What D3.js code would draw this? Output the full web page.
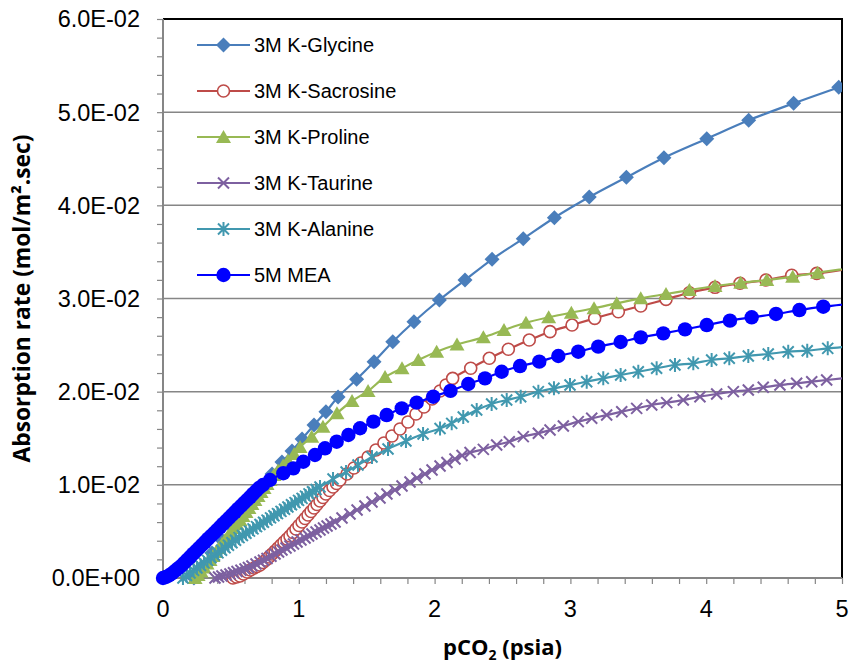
<!DOCTYPE html>
<html><head><meta charset="utf-8">
<script src="https://cdn.jsdelivr.net/npm/d3@7"></script>
<style>body{margin:0;background:#fff} svg{display:block}</style>
</head><body><svg id="c" width="852" height="663"></svg>
<script>
// ---------- DATA ----------
const seriesNames = ["3M K-Glycine","3M K-Sacrosine","3M K-Proline","3M K-Taurine","3M K-Alanine","5M MEA"];
const xTicks = [0,1,2,3,4,5];
const xTickLabels = ["0","1","2","3","4","5"];
const yTicks = [0,0.01,0.02,0.03,0.04,0.05,0.06];
const yTickLabels = ["0.0E+00","1.0E-02","2.0E-02","3.0E-02","4.0E-02","5.0E-02","6.0E-02"];

const glycineX = [0.228,0.287,0.361,0.434,0.508,0.582,0.655,0.729,0.803,0.876,0.950,1.024,1.112,1.200,1.289,1.426,1.554,1.692,1.848,2.035,2.224,2.423,2.653,2.882,3.139,3.412,3.689,4.004,4.313,4.644,4.976,5.177];
const glycineY = [0,0.00118,0.00268,0.00408,0.00547,0.00698,0.00837,0.00977,0.01116,0.01245,0.01363,0.01492,0.01642,0.01785,0.01943,0.02133,0.02322,0.02536,0.02751,0.02984,0.03198,0.03421,0.03642,0.03867,0.04089,0.04301,0.04511,0.04715,0.04913,0.05095,0.05267,0.05371];

const sacrosineX = [0.515,0.541,0.567,0.593,0.619,0.644,0.671,0.692,0.714,0.736,0.758,0.781,0.803,0.825,0.847,0.869,0.891,0.913,0.935,0.957,0.979,1.001,1.024,1.046,1.068,1.090,1.112,1.134,1.156,1.178,1.200,1.226,1.252,1.278,1.303,1.355,1.406,1.458,1.510,1.568,1.627,1.686,1.745,1.804,1.863,1.922,1.981,2.040,2.084,2.133,2.266,2.403,2.543,2.697,2.850,3.012,3.179,3.353,3.518,3.704,3.876,4.065,4.249,4.440,4.630,4.814,5.177];
const sacrosineY = [0,0.00011,0.00021,0.00043,0.00064,0.00086,0.00107,0.00123,0.00140,0.00166,0.00193,0.00225,0.00258,0.00290,0.00322,0.00354,0.00386,0.00419,0.00451,0.00488,0.00526,0.00563,0.00601,0.00639,0.00676,0.00714,0.00751,0.00789,0.00826,0.00864,0.00902,0.00939,0.00977,0.01014,0.01052,0.01116,0.01181,0.01234,0.01299,0.01374,0.01449,0.01524,0.01599,0.01674,0.01760,0.01835,0.01921,0.02007,0.02071,0.02143,0.02251,0.02358,0.02455,0.02554,0.02644,0.02715,0.02787,0.02858,0.02919,0.02991,0.03062,0.03120,0.03163,0.03198,0.03249,0.03270,0.03349];

const prolineX = [0.236,0.258,0.280,0.302,0.324,0.346,0.368,0.390,0.412,0.434,0.457,0.479,0.501,0.523,0.545,0.567,0.589,0.611,0.633,0.655,0.677,0.700,0.722,0.744,0.766,0.788,0.817,0.847,0.884,0.920,0.965,1.009,1.095,1.178,1.281,1.392,1.510,1.635,1.760,1.880,2.015,2.165,2.359,2.511,2.673,2.840,3.007,3.174,3.341,3.518,3.704,3.876,4.065,4.254,4.446,4.637,4.821,5.177];
const prolineY = [0,0.00032,0.00070,0.00113,0.00156,0.00193,0.00236,0.00279,0.00322,0.00365,0.00408,0.00451,0.00494,0.00537,0.00580,0.00623,0.00665,0.00708,0.00751,0.00794,0.00837,0.00880,0.00923,0.00966,0.01009,0.01052,0.01106,0.01154,0.01207,0.01261,0.01331,0.01406,0.01517,0.01624,0.01768,0.01900,0.02007,0.02157,0.02251,0.02340,0.02429,0.02506,0.02583,0.02662,0.02740,0.02798,0.02848,0.02895,0.02948,0.03002,0.03048,0.03091,0.03134,0.03169,0.03198,0.03234,0.03277,0.03349];

const taurineX = [0.383,0.409,0.434,0.464,0.493,0.519,0.545,0.574,0.604,0.629,0.655,0.685,0.714,0.740,0.766,0.795,0.825,0.851,0.876,0.906,0.935,0.961,0.987,1.016,1.046,1.072,1.097,1.127,1.156,1.182,1.208,1.237,1.267,1.318,1.377,1.429,1.487,1.539,1.598,1.649,1.708,1.760,1.819,1.870,1.929,1.981,2.040,2.091,2.150,2.202,2.261,2.359,2.457,2.550,2.653,2.764,2.850,2.948,3.058,3.157,3.267,3.378,3.488,3.599,3.709,3.831,3.954,4.077,4.200,4.310,4.420,4.543,4.666,4.777,4.887,5.177];
const taurineY = [0,0.00011,0.00021,0.00032,0.00043,0.00056,0.00070,0.00083,0.00097,0.00113,0.00129,0.00150,0.00172,0.00190,0.00209,0.00233,0.00258,0.00279,0.00301,0.00322,0.00343,0.00365,0.00386,0.00408,0.00429,0.00451,0.00472,0.00494,0.00515,0.00537,0.00558,0.00580,0.00601,0.00644,0.00687,0.00730,0.00773,0.00816,0.00859,0.00902,0.00944,0.00987,0.01030,0.01073,0.01116,0.01159,0.01202,0.01240,0.01277,0.01315,0.01347,0.01381,0.01427,0.01463,0.01517,0.01553,0.01588,0.01631,0.01678,0.01714,0.01749,0.01785,0.01821,0.01857,0.01882,0.01910,0.01946,0.01975,0.02000,0.02018,0.02047,0.02071,0.02090,0.02107,0.02125,0.02168];

const alanineX = [0.147,0.173,0.199,0.225,0.250,0.276,0.302,0.328,0.353,0.379,0.405,0.431,0.457,0.482,0.508,0.534,0.560,0.585,0.611,0.637,0.663,0.689,0.714,0.740,0.766,0.792,0.817,0.843,0.869,0.895,0.920,0.946,0.972,0.998,1.024,1.049,1.075,1.101,1.127,1.156,1.252,1.348,1.436,1.539,1.657,1.789,1.915,2.040,2.126,2.211,2.310,2.420,2.531,2.634,2.764,2.879,2.997,3.120,3.242,3.370,3.500,3.635,3.770,3.905,4.040,4.170,4.310,4.457,4.604,4.744,4.895,5.177];
const alanineY = [0,0.00027,0.00054,0.00082,0.00108,0.00135,0.00162,0.00189,0.00217,0.00244,0.00270,0.00298,0.00324,0.00351,0.00379,0.00406,0.00433,0.00457,0.00480,0.00503,0.00527,0.00551,0.00574,0.00598,0.00621,0.00645,0.00668,0.00691,0.00715,0.00738,0.00762,0.00786,0.00809,0.00833,0.00855,0.00879,0.00903,0.00926,0.00950,0.00977,0.01063,0.01138,0.01213,0.01299,0.01385,0.01470,0.01546,0.01605,0.01660,0.01728,0.01803,0.01868,0.01910,0.01946,0.02000,0.02036,0.02071,0.02107,0.02143,0.02179,0.02214,0.02251,0.02286,0.02304,0.02340,0.02358,0.02383,0.02404,0.02429,0.02440,0.02465,0.02501];

const meaX = [0,0.022,0.044,0.066,0.088,0.110,0.133,0.155,0.177,0.199,0.221,0.243,0.265,0.287,0.309,0.331,0.353,0.376,0.398,0.420,0.442,0.464,0.486,0.508,0.530,0.552,0.574,0.596,0.619,0.641,0.663,0.685,0.707,0.736,0.788,0.886,0.960,1.033,1.119,1.193,1.279,1.365,1.451,1.549,1.647,1.758,1.868,1.990,2.117,2.248,2.371,2.494,2.629,2.771,2.911,3.058,3.205,3.370,3.518,3.684,3.844,4.004,4.175,4.335,4.514,4.686,4.862,5.177];
const meaY = [0,0.00011,0.00027,0.00048,0.00075,0.00102,0.00129,0.00161,0.00193,0.00225,0.00258,0.00290,0.00322,0.00354,0.00386,0.00419,0.00451,0.00483,0.00515,0.00547,0.00580,0.00612,0.00644,0.00676,0.00708,0.00741,0.00773,0.00805,0.00837,0.00869,0.00902,0.00934,0.00966,0.00998,0.01052,0.01124,0.01177,0.01248,0.01320,0.01392,0.01463,0.01535,0.01607,0.01678,0.01749,0.01821,0.01882,0.01946,0.02009,0.02082,0.02143,0.02214,0.02275,0.02322,0.02383,0.02429,0.02483,0.02533,0.02583,0.02626,0.02669,0.02715,0.02762,0.02798,0.02834,0.02876,0.02912,0.02962];

const seriesColors = ["#4A7EBB","#BE4B48","#98B954","#7D60A0","#4198AF","#0000FF"];
const seriesMarkers = ["diamond","ocircle","triangle","x","star","circle"];

// ---------- LAYOUT ----------
const svg = d3.select("#c");
const L = 163, R = 842, T = 19, B = 578;
const x = d3.scaleLinear().domain([0,5]).range([L,R]);
const y = d3.scaleLinear().domain([0,0.06]).range([B,T]);
const gridCol = "#868686";
const font = "'Liberation Sans', Arial, sans-serif";

svg.append("rect").attr("width",852).attr("height",663).attr("fill","#fff");

svg.append("g").selectAll("line").data(yTicks.filter(v=>v>0 && v<0.06)).join("line")
  .attr("x1",L).attr("x2",R).attr("y1",d=>y(d)).attr("y2",d=>y(d))
  .attr("stroke",gridCol).attr("stroke-width",1.5);

svg.append("path").attr("d",`M${L},${y(0.06)}H${R}V${B}`).attr("fill","none")
  .attr("stroke","#000").attr("stroke-width",2);

const yMinor = d3.range(0,0.0601,0.002);
const xMinor = d3.range(0,5.001,0.2);
const yAxis = d3.axisLeft(y).tickValues(yMinor).tickSize(6).tickFormat("");
const xAxis = d3.axisBottom(x).tickValues(xMinor).tickSize(6).tickFormat("");
const gy = svg.append("g").attr("transform",`translate(${L},0)`).call(yAxis);
const gx = svg.append("g").attr("transform",`translate(0,${B})`).call(xAxis);
[gy,gx].forEach(g=>{
  g.select(".domain").attr("stroke",gridCol).attr("stroke-width",2);
  g.selectAll(".tick line").attr("stroke",gridCol).attr("stroke-width",1.2);
});
gy.select(".domain").attr("d",`M0,${B+1}V${T}`);
gx.select(".domain").attr("d",`M${L-1},0H${R}`);

svg.append("g").selectAll("text").data(yTicks).join("text")
  .attr("x",140).attr("y",d=>y(d)).attr("dy","0.36em").attr("text-anchor","end")
  .attr("font-family",font).attr("font-size",23.5).attr("fill","#000")
  .text((d,i)=>yTickLabels[i]);
svg.append("g").selectAll("text").data(xTicks).join("text")
  .attr("x",d=>x(d)).attr("y",616.5).attr("text-anchor","middle")
  .attr("font-family",font).attr("font-size",23.5).attr("fill","#000")
  .text((d,i)=>xTickLabels[i]);

svg.append("text").attr("transform",`translate(30,${(T+B)/2}) rotate(-90)`)
  .attr("text-anchor","middle").attr("font-family","'Open Sans', sans-serif")
  .attr("font-weight","bold").attr("font-size",22.8).attr("fill","#000")
  .text("Absorption rate (mol/m².sec)");
const xt = svg.append("text").attr("x",(L+R)/2).attr("y",655).attr("text-anchor","middle")
  .attr("font-family","'Open Sans', sans-serif").attr("font-weight","bold").attr("font-size",22).attr("fill","#000");
xt.append("tspan").text("pCO");
xt.append("tspan").attr("font-size",14).attr("dy",5).text("2");
xt.append("tspan").attr("dy",-5).text(" (psia)");

// ---------- SERIES ----------
svg.append("clipPath").attr("id","clip").append("rect")
  .attr("x",0).attr("y",0).attr("width",R).attr("height",663);

function marker(g, type, color){
  if(type==="diamond") g.append("path").attr("d","M0,-7.5L7.5,0L0,7.5L-7.5,0Z").attr("fill",color);
  else if(type==="ocircle") g.append("circle").attr("r",6).attr("fill","#fff").attr("stroke",color).attr("stroke-width",1.6);
  else if(type==="triangle") g.append("path").attr("d","M0,-7L7.5,6L-7.5,6Z").attr("fill",color);
  else if(type==="x") g.append("path").attr("d","M-5.5,-5.5L5.5,5.5M5.5,-5.5L-5.5,5.5").attr("stroke",color).attr("stroke-width",2).attr("fill","none");
  else if(type==="star") g.append("path").attr("d","M-5.5,-5.5L5.5,5.5M5.5,-5.5L-5.5,5.5M0,-7L0,7").attr("stroke",color).attr("stroke-width",2).attr("fill","none");
  else if(type==="circle") g.append("circle").attr("r",7.2).attr("fill",color);
}

const allX = [glycineX,sacrosineX,prolineX,taurineX,alanineX,meaX];
const allY = [glycineY,sacrosineY,prolineY,taurineY,alanineY,meaY];
const line = d3.line().x(d=>x(d[0])).y(d=>y(d[1])).curve(d3.curveCatmullRom.alpha(0.5));
const plot = svg.append("g").attr("clip-path","url(#clip)");
seriesNames.forEach((name,i)=>{
  const pts = allX[i].map((v,j)=>[v,allY[i][j]]);
  const g = plot.append("g");
  g.append("path").attr("d",line(pts)).attr("fill","none").attr("stroke",seriesColors[i]).attr("stroke-width",2.2);
  pts.filter(p=>p[0]<=5).forEach(p=>{
    const m = g.append("g").attr("transform",`translate(${x(p[0])},${y(p[1])})`);
    marker(m, seriesMarkers[i], seriesColors[i]);
  });
});

// ---------- LEGEND ----------
const lg = svg.append("g");
seriesNames.forEach((name,i)=>{
  const cy = 45 + i*46;
  const e = lg.append("g").attr("transform",`translate(0,${cy})`);
  e.append("line").attr("x1",197).attr("x2",250).attr("stroke",seriesColors[i]).attr("stroke-width",2.2);
  const m = e.append("g").attr("transform","translate(223.5,0)");
  marker(m, seriesMarkers[i], seriesColors[i]);
  e.append("text").attr("x",254).attr("y",0).attr("dy","0.36em").attr("font-family",font)
    .attr("font-size",20).attr("fill","#000").text(name);
});
</script></body></html>
